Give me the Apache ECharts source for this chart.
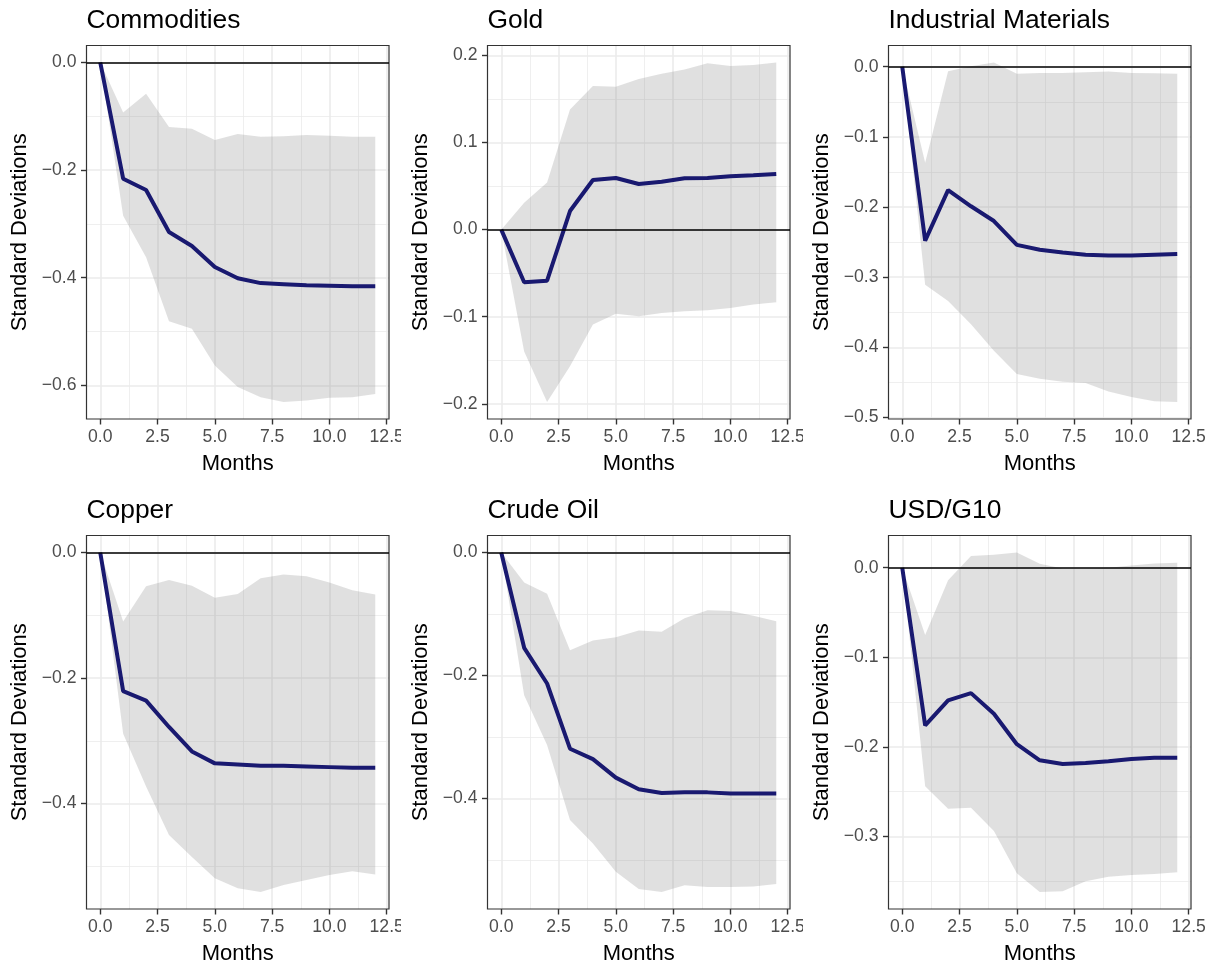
<!DOCTYPE html>
<html>
<head>
<meta charset="utf-8">
<script src="https://cdn.jsdelivr.net/npm/echarts@6/dist/echarts.min.js"></script>
<style>
  body { margin: 0; background: #fff; width: 1216px; height: 965px; position: relative; overflow: hidden; }
  .panel { position: absolute; overflow: hidden; }
</style>
</head>
<body>
<script>
// horizon in months
const months = [0, 1, 2, 3, 4, 5, 6, 7, 8, 9, 10, 11, 12];
const xTicks = [0, 2.5, 5, 7.5, 10, 12.5];

// impulse responses (standard deviations) and 95% bands
const commoditiesIrf   = [0, -0.216, -0.237, -0.315, -0.341, -0.380, -0.401, -0.410, -0.412, -0.414, -0.415, -0.416, -0.416];
const commoditiesUpper = [0, -0.093, -0.058, -0.120, -0.123, -0.144, -0.133, -0.138, -0.137, -0.135, -0.136, -0.138, -0.138];
const commoditiesLower = [0, -0.285, -0.362, -0.481, -0.495, -0.563, -0.603, -0.622, -0.631, -0.628, -0.623, -0.622, -0.616];
const commoditiesYTicks = [-0.6, -0.4, -0.2, 0];

const goldIrf   = [0, -0.0605, -0.0586, 0.0214, 0.057, 0.0593, 0.0524, 0.0551, 0.059, 0.0593, 0.0612, 0.0624, 0.0639];
const goldUpper = [0, 0.031, 0.054, 0.138, 0.165, 0.164, 0.173, 0.179, 0.184, 0.191, 0.188, 0.189, 0.192];
const goldLower = [0, -0.140, -0.198, -0.157, -0.109, -0.0965, -0.0995, -0.0957, -0.0938, -0.0926, -0.090, -0.086, -0.0834];
const goldYTicks = [-0.2, -0.1, 0, 0.1, 0.2];

const industrialIrf   = [0, -0.248, -0.176, -0.199, -0.220, -0.254, -0.261, -0.265, -0.268, -0.269, -0.269, -0.268, -0.267];
const industrialUpper = [0, -0.137, -0.0066, 0.0005, 0.006, -0.010, -0.009, -0.009, -0.008, -0.007, -0.009, -0.0095, -0.010];
const industrialLower = [0, -0.311, -0.334, -0.367, -0.405, -0.438, -0.445, -0.449, -0.451, -0.463, -0.471, -0.477, -0.478];
const industrialYTicks = [-0.5, -0.4, -0.3, -0.2, -0.1, 0];

const copperIrf   = [0, -0.221, -0.236, -0.278, -0.317, -0.336, -0.338, -0.340, -0.340, -0.341, -0.342, -0.343, -0.343];
const copperUpper = [0, -0.110, -0.054, -0.044, -0.053, -0.072, -0.066, -0.041, -0.035, -0.038, -0.048, -0.060, -0.067];
const copperLower = [0, -0.289, -0.373, -0.450, -0.485, -0.519, -0.535, -0.541, -0.530, -0.522, -0.514, -0.508, -0.513];
const copperYTicks = [-0.4, -0.2, 0];

const oilIrf   = [0, -0.155, -0.213, -0.319, -0.336, -0.366, -0.385, -0.391, -0.390, -0.390, -0.392, -0.392, -0.392];
const oilUpper = [0, -0.049, -0.067, -0.159, -0.143, -0.138, -0.127, -0.129, -0.107, -0.094, -0.095, -0.103, -0.112];
const oilLower = [0, -0.232, -0.313, -0.435, -0.473, -0.519, -0.547, -0.552, -0.541, -0.544, -0.544, -0.543, -0.539];
const oilYTicks = [-0.4, -0.2, 0];

const usdIrf   = [0, -0.176, -0.148, -0.140, -0.163, -0.197, -0.215, -0.219, -0.218, -0.216, -0.2135, -0.212, -0.212];
const usdUpper = [0, -0.075, -0.014, 0.013, 0.0145, 0.017, 0.0045, -0.001, -0.001, 0, 0.0026, 0.0048, 0.0056];
const usdLower = [0, -0.244, -0.269, -0.268, -0.294, -0.341, -0.362, -0.361, -0.350, -0.345, -0.343, -0.342, -0.340];
const usdYTicks = [-0.3, -0.2, -0.1, 0];

const panels = [
  { title: 'Commodities', irf: commoditiesIrf, upper: commoditiesUpper, lower: commoditiesLower, yTicks: commoditiesYTicks, col: 0, row: 0 },
  { title: 'Gold', irf: goldIrf, upper: goldUpper, lower: goldLower, yTicks: goldYTicks, col: 1, row: 0 },
  { title: 'Industrial Materials', irf: industrialIrf, upper: industrialUpper, lower: industrialLower, yTicks: industrialYTicks, col: 2, row: 0 },
  { title: 'Copper', irf: copperIrf, upper: copperUpper, lower: copperLower, yTicks: copperYTicks, col: 0, row: 1 },
  { title: 'Crude Oil', irf: oilIrf, upper: oilUpper, lower: oilLower, yTicks: oilYTicks, col: 1, row: 1 },
  { title: 'USD/G10', irf: usdIrf, upper: usdUpper, lower: usdLower, yTicks: usdYTicks, col: 2, row: 1 }
];

const font = "'Liberation Sans', Arial, Helvetica, sans-serif";
const colLeft = [0, 401, 803];
const colWidth = [401, 402, 402];
const gridLeft = [86.5, 86.5, 85.5];
const rowTop = [0, 482];
const gridTop = [45.5, 53.5];

const fmt = v => v.toFixed(1).replace('-', '\u2212');

// minor grid values halfway between breaks (plus one step past each end), kept inside the range
function minorBreaks(ticks, lo, hi) {
  const step = ticks[1] - ticks[0];
  const out = [];
  for (let i = -1; i < ticks.length; i++) {
    const v = +(ticks[0] + (i + 0.5) * step).toFixed(6);
    if (v > lo && v < hi) out.push(v);
  }
  return out;
}

function buildOption(p) {
  const lo = Math.min(0, ...p.lower), hi = Math.max(0, ...p.upper);
  const pad = (hi - lo) * 0.05;
  const yMin = lo - pad, yMax = hi + pad;
  const xMin = -0.6, xMax = 12.6;
  const yStep = +(p.yTicks[1] - p.yTicks[0]).toFixed(6);

  const tickStyle = { show: true, length: 5.5, lineStyle: { color: '#333333', width: 1.4 } };
  const labelStyle = { color: '#4d4d4d', fontSize: 17.6, fontFamily: font, formatter: fmt };
  const major = { show: true, lineStyle: { color: '#ebebeb', width: 1.6 } };
  const minor = { show: true, lineStyle: { color: '#ebebeb', width: 0.8 } };
  const hiddenParts = { axisLine: { show: false, onZero: false }, axisLabel: { show: false } };

  return {
    animation: false,
    title: { text: p.title, left: gridLeft[p.col], top: gridTop[p.row] - 37.5, padding: 0,
      textStyle: { fontSize: 26.4, fontWeight: 'normal', color: '#000', fontFamily: font } },
    grid: { left: gridLeft[p.col], top: gridTop[p.row], width: 302.5, height: 373.5, z: 5,
      outerBoundsMode: 'none', containLabel: false,
      show: true, borderColor: '#333333', borderWidth: 1.2, backgroundColor: 'transparent' },
    xAxis: [
      { type: 'value', min: xMin, max: xMax, minInterval: 2.5, maxInterval: 2.5,
        name: 'Months', nameLocation: 'middle', nameGap: 34,
        nameTextStyle: { fontSize: 22, color: '#000', fontFamily: font },
        axisLine: { show: false, onZero: false },
        axisTick: Object.assign({ customValues: xTicks }, tickStyle),
        axisLabel: Object.assign({ customValues: xTicks, margin: 9 }, labelStyle),
        splitLine: major },
      Object.assign({ type: 'value', min: xMin, max: xMax, minInterval: 1.25, maxInterval: 1.25,
        axisTick: { show: false, customValues: minorBreaks(xTicks, xMin, xMax) }, splitLine: minor }, hiddenParts)
    ],
    yAxis: [
      { type: 'value', min: yMin, max: yMax, minInterval: yStep, maxInterval: yStep,
        name: 'Standard Deviations', nameLocation: 'middle', nameRotate: 90, nameGap: 55,
        nameTextStyle: { fontSize: 22, color: '#000', fontFamily: font },
        axisLine: { show: false, onZero: false },
        axisTick: Object.assign({ customValues: p.yTicks }, tickStyle),
        axisLabel: Object.assign({ customValues: p.yTicks, margin: 10 }, labelStyle),
        splitLine: major },
      Object.assign({ type: 'value', min: yMin, max: yMax, minInterval: yStep / 2, maxInterval: yStep / 2,
        axisTick: { show: false, customValues: minorBreaks(p.yTicks, yMin, yMax) }, splitLine: minor }, hiddenParts)
    ],
    series: [
      { // confidence band drawn as one polygon through the axes' scales
        type: 'custom', xAxisIndex: 0, yAxisIndex: 0, silent: true, z: 2,
        data: months.map((m, i) => [m, p.lower[i], p.upper[i]]),
        renderItem: (params, api) => {
          if (params.dataIndex !== 0) return null;
          const top = months.map((m, i) => api.coord([m, p.upper[i]]));
          const bottom = months.map((m, i) => api.coord([m, p.lower[i]])).reverse();
          return { type: 'polygon', shape: { points: top.concat(bottom) },
            style: { fill: 'rgba(127,127,127,0.24)' } };
        },
        markLine: { silent: true, symbol: ['none', 'none'], label: { show: false },
          lineStyle: { color: '#000', width: 1.6, type: 'solid' }, emphasis: { disabled: true },
          data: [{ yAxis: 0 }] } },
      { type: 'line', xAxisIndex: 0, yAxisIndex: 0, data: months.map((m, i) => [m, p.irf[i]]),
        symbol: 'none', silent: true, z: 3,
        lineStyle: { color: '#191970', width: 4 } }
    ]
  };
}

panels.forEach(p => {
  const div = document.createElement('div');
  div.className = 'panel';
  div.style.left = colLeft[p.col] + 'px';
  div.style.top = rowTop[p.row] + 'px';
  div.style.width = colWidth[p.col] + 'px';
  div.style.height = '483px';
  document.body.appendChild(div);
  const chart = echarts.init(div);
  chart.setOption(buildOption(p));
});
</script>
</body>
</html>
